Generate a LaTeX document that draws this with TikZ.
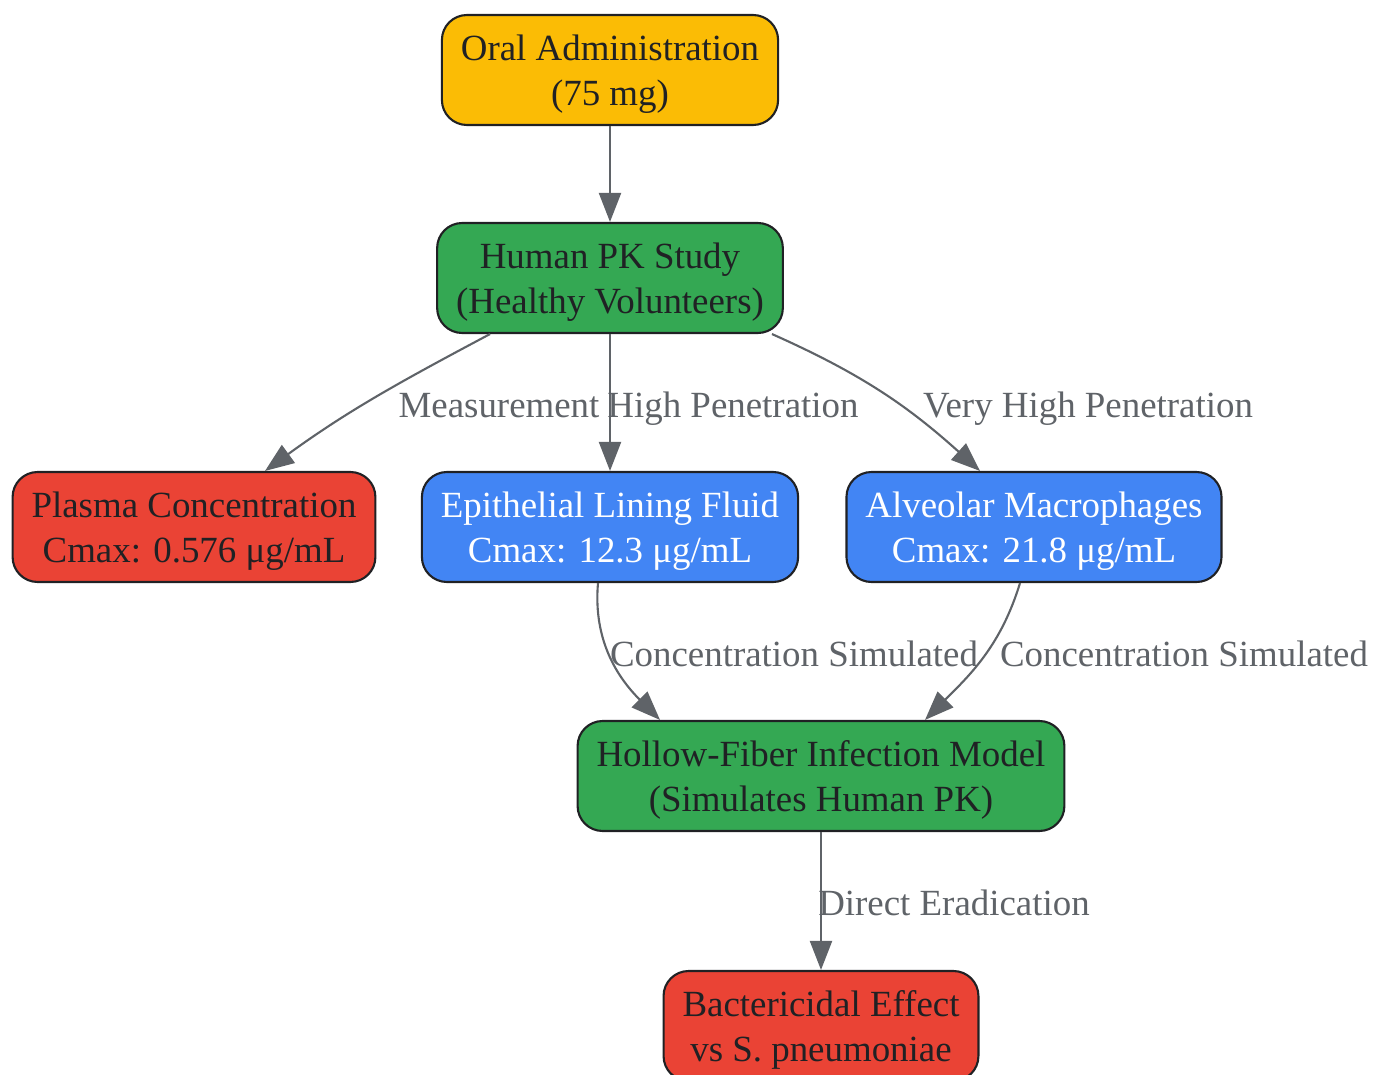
\documentclass[tikz,border=0pt]{standalone}
\usepackage{fontspec}
\setmainfont{Liberation Serif}
\usetikzlibrary{arrows.meta}
\definecolor{gyellow}{HTML}{FBBC05}
\definecolor{ggreen}{HTML}{34A853}
\definecolor{gred}{HTML}{EA4335}
\definecolor{gblue}{HTML}{4285F4}
\definecolor{ggray}{HTML}{5F6368}
\definecolor{gdark}{HTML}{202124}
\begin{document}
\begin{tikzpicture}[x=0.02cm,y=-0.02cm,
    box/.style={draw=gdark,line width=1.2pt,rounded corners=0.5cm,align=center,
      minimum height=2.2cm,inner xsep=0.38cm,text=gdark,text depth=0pt,
      font=\fontsize{21}{25.5}\selectfont},
    flow/.style={draw=ggray,line width=1.2pt,-{Triangle[length=0.58cm,width=0.44cm]}},
    lbl/.style={text=ggray,font=\fontsize{21}{25.5}\selectfont,inner sep=0pt,anchor=base}]
    \useasboundingbox (0,0) rectangle (1374,1075);
    \node[box,fill=gyellow] (oral) at (610,70) {Oral Administration\\(75 mg)};
    \node[box,fill=ggreen] (human) at (610,278) {Human PK Study\\(Healthy Volunteers)};
    \node[box,fill=gred] (plasma) at (194,527) {Plasma Concentration\\Cmax: 0.576 μg/mL};
    \node[box,fill=gblue,text=white] (elf) at (610,527) {Epithelial Lining Fluid\\Cmax: 12.3 μg/mL};
    \node[box,fill=gblue,text=white] (am) at (1034,527) {Alveolar Macrophages\\Cmax: 21.8 μg/mL};
    \node[box,fill=ggreen] (hfim) at (821,776) {Hollow-Fiber Infection Model\\(Simulates Human PK)};
    \node[box,fill=gred] (effect) at (821,1026) {Bactericidal Effect\\vs S. pneumoniae};
    \draw[flow] (oral) -- (human);
    \draw[flow] ([xshift=-2.4cm]human.south) to[out=-152,in=36] ([xshift=1.42cm]plasma.north);
    \draw[flow] (human) -- (elf);
    \draw[flow] ([xshift=3.24cm]human.south) to[out=-24,in=138] ([xshift=-1.08cm]am.north);
    \draw[flow] ([xshift=-0.24cm]elf.south) to[out=-95,in=135] ([xshift=-3.22cm]hfim.north);
    \draw[flow] ([xshift=-0.28cm]am.south) to[out=-107,in=45] ([xshift=2.08cm]hfim.north);
    \draw[flow] (hfim) -- (effect);
    \node[lbl] (l1) at (499,417) {Measurement};
    \node[lbl] (l2) at (733,417) {High Penetration};
    \node[lbl] (l3) at (1088,417) {Very High Penetration};
    \node[lbl] (l4) at (794,666) {Concentration Simulated};
    \node[lbl] (l5) at (1184,666) {Concentration Simulated};
    \node[lbl] (l6) at (954,915) {Direct Eradication};
\end{tikzpicture}
\end{document}
